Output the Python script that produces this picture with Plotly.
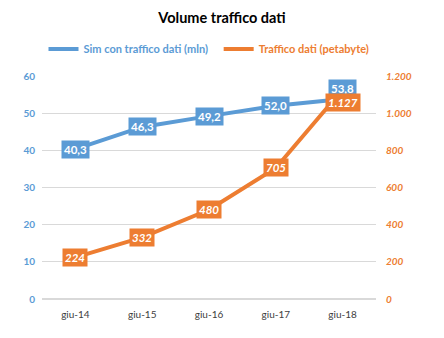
import plotly.graph_objects as go

categories = ["giu-14", "giu-15", "giu-16", "giu-17", "giu-18"]
sim_values = [40.3, 46.3, 49.2, 52.0, 53.8]
traffic_values = [224, 332, 480, 705, 1127]
left_ticks = [0, 10, 20, 30, 40, 50, 60]
right_ticks = [0, 200, 400, 600, 800, 1000, 1200]

BLUE = "#5B9BD5"
ORANGE = "#ED7D31"
FONT = "Lato"

def it_num(v, dec):
    s = f"{v:,.{dec}f}"
    return s.replace(",", "X").replace(".", ",").replace("X", ".")

fig = go.Figure()
fig.add_trace(go.Scatter(
    x=categories, y=sim_values, mode="lines",
    line=dict(color=BLUE, width=4),
    name="<b><span style='color:%s'>Sim con traffico dati (mln)</span></b>&nbsp;&nbsp;" % BLUE,
    yaxis="y"))
fig.add_trace(go.Scatter(
    x=categories, y=traffic_values, mode="lines",
    line=dict(color=ORANGE, width=4),
    name="<b><span style='color:%s'>Traffico dati (petabyte)</span></b>" % ORANGE,
    yaxis="y2"))

annotations = []
n = len(categories)
for i, (c, v) in enumerate(zip(categories, sim_values)):
    annotations.append(dict(
        x=c, y=v, xref="x", yref="y", text="<b>%s</b>" % it_num(v, 1),
        showarrow=False, bgcolor=BLUE, borderpad=2,
        font=dict(color="white", size=11.5, family=FONT),
        yshift=11 if i == n - 1 else 0))
for i, (c, v) in enumerate(zip(categories, traffic_values)):
    annotations.append(dict(
        x=c, y=v, xref="x", yref="y2", text="<b><i>%s</i></b>" % it_num(v, 0),
        showarrow=False, bgcolor=ORANGE, borderpad=2,
        font=dict(color="white", size=11.5, family=FONT),
        yshift=-13 if i == n - 1 else 0))

fig.update_layout(
    width=444, height=338,
    margin=dict(l=42, r=68, t=76, b=39, autoexpand=False),
    paper_bgcolor="white", plot_bgcolor="white",
    font=dict(family=FONT),
    title=dict(text="<b>Volume traffico dati</b>", x=0.5, xanchor="center",
               y=1 - 18 / 338, yanchor="middle",
               font=dict(size=14.5, color="black", family=FONT)),
    legend=dict(orientation="h", x=0.5, xanchor="center", y=1 - 49 / 338,
                yref="container", yanchor="middle",
                font=dict(size=11, family=FONT), itemwidth=30,
                traceorder="normal"),
    xaxis=dict(type="category", range=[-0.5, len(categories) - 0.5],
               showgrid=False, showline=False, ticks="", ticklabelstandoff=8,
               tickfont=dict(size=10, color="#404040", family=FONT)),
    yaxis=dict(range=[0, 60], tickvals=left_ticks,
               ticktext=["<b>%d</b>" % t for t in left_ticks],
               showgrid=True, gridcolor="#D9D9D9", gridwidth=1,
               zeroline=True, zerolinecolor="#D9D9D9", showline=False,
               ticklabelstandoff=6,
               tickfont=dict(size=10, color=BLUE, family=FONT)),
    yaxis2=dict(range=[0, 1200], tickvals=right_ticks,
                ticktext=["<b><i>%s</i></b>" % it_num(t, 0) for t in right_ticks],
                overlaying="y", side="right", showgrid=False, zeroline=False,
                ticklabelstandoff=9,
                tickfont=dict(size=10, color=ORANGE, family=FONT)),
    annotations=annotations,
    showlegend=True,
)

fig.write_html("out.html")
